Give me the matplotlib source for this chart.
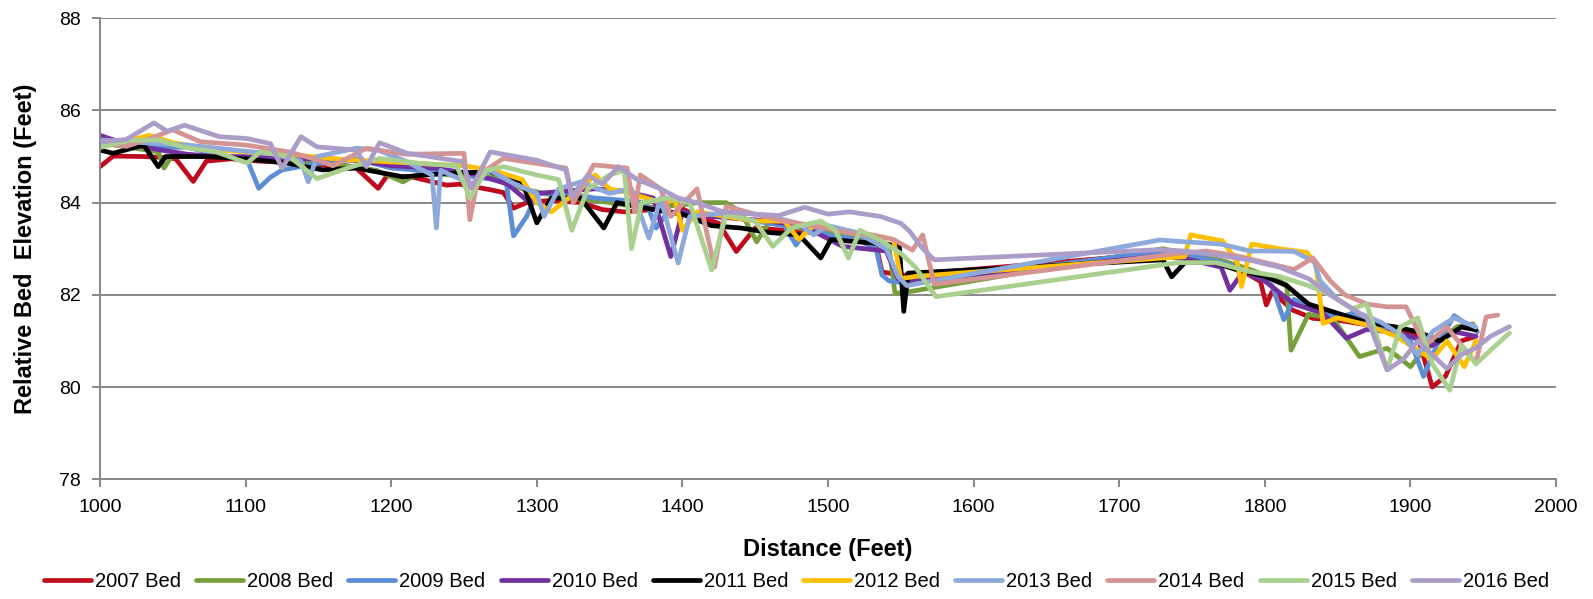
import matplotlib.pyplot as plt

# --- Survey data: (distance ft, relative bed elevation ft) ---
bed_2007 = [(1000, 84.78), (1009, 85.01), (1030, 85.0), (1045, 84.98), (1052, 84.95), (1064, 84.46),
            (1073, 84.9), (1090, 84.95), (1110, 84.9), (1130, 84.88), (1150, 84.82), (1176, 84.75),
            (1191, 84.31), (1197, 84.58), (1215, 84.55), (1238, 84.38), (1247, 84.4), (1268, 84.28),
            (1277, 84.22), (1284, 83.88), (1293, 84.0), (1310, 84.05), (1330, 84.0), (1345, 83.85),
            (1360, 83.8), (1380, 83.85), (1395, 83.95), (1410, 83.7), (1425, 83.55), (1437, 82.94),
            (1450, 83.45), (1470, 83.4), (1490, 83.35), (1505, 83.3), (1520, 83.2), (1533, 83.1),
            (1537, 82.5), (1550, 82.42), (1730, 82.9), (1745, 82.85), (1760, 82.75), (1780, 82.6),
            (1797, 82.29), (1801, 81.78), (1805, 82.07), (1819, 81.67), (1833, 81.49), (1850, 81.45),
            (1870, 81.35), (1890, 81.3), (1905, 81.1), (1915, 80.0), (1924, 80.23), (1935, 81.0),
            (1945, 81.1)]

bed_2008 = [(1000, 85.3), (1020, 85.2), (1040, 85.1), (1044, 84.75), (1050, 85.05), (1080, 85.0),
            (1100, 84.95), (1130, 84.9), (1160, 84.85), (1190, 84.7), (1208, 84.45), (1220, 84.65),
            (1240, 84.6), (1270, 84.55), (1290, 84.3), (1305, 84.2), (1320, 84.1), (1340, 84.05),
            (1360, 83.95), (1380, 83.9), (1400, 83.95), (1410, 84.0), (1430, 84.0), (1440, 83.8),
            (1451, 83.15), (1460, 83.6), (1480, 83.45), (1500, 83.35), (1520, 83.25), (1535, 83.15),
            (1542, 83.0), (1546, 82.03), (1556, 82.07), (1730, 83.0), (1745, 82.9), (1770, 82.75),
            (1790, 82.55), (1810, 82.3), (1815, 82.22), (1818, 80.8), (1830, 81.58), (1847, 81.48),
            (1865, 80.66), (1884, 80.84), (1900, 80.44), (1909, 80.8), (1920, 81.0), (1932, 81.31),
            (1943, 81.37)]

bed_2009 = [(1000, 85.35), (1020, 85.3), (1040, 85.2), (1060, 85.2), (1080, 85.05), (1101, 84.93),
            (1109, 84.31), (1117, 84.55), (1125, 84.71), (1150, 84.85), (1176, 84.95), (1200, 84.75),
            (1220, 84.7), (1240, 84.65), (1270, 84.5), (1279, 84.45), (1284, 83.28), (1293, 83.7),
            (1300, 84.2), (1320, 84.2), (1340, 84.1), (1360, 84.05), (1375, 84.0), (1382, 83.45),
            (1390, 83.8), (1410, 83.75), (1430, 83.7), (1450, 83.6), (1470, 83.5), (1478, 83.08),
            (1486, 83.45), (1500, 83.3), (1520, 83.2), (1533, 83.0), (1537, 82.43), (1542, 82.3),
            (1555, 82.25), (1730, 82.95), (1750, 82.85), (1770, 82.7), (1790, 82.5), (1805, 82.2),
            (1813, 81.46), (1820, 81.9), (1835, 81.7), (1850, 81.5), (1860, 81.6), (1875, 81.35),
            (1890, 81.2), (1900, 81.0), (1909, 80.23), (1918, 80.9), (1930, 81.55), (1946, 81.2)]

bed_2010 = [(1000, 85.46), (1015, 85.3), (1040, 85.15), (1060, 85.05), (1080, 85.0), (1100, 85.0),
            (1130, 84.95), (1160, 84.95), (1180, 84.9), (1200, 84.8), (1230, 84.75), (1260, 84.6),
            (1280, 84.4), (1295, 84.0), (1300, 84.2), (1320, 84.25), (1340, 84.3), (1360, 84.25),
            (1380, 84.1), (1392, 82.83), (1400, 83.8), (1420, 83.7), (1440, 83.65), (1460, 83.6),
            (1480, 83.5), (1495, 83.3), (1510, 83.05), (1525, 83.0), (1540, 82.95), (1548, 82.35),
            (1556, 82.3), (1730, 82.85), (1750, 82.75), (1770, 82.6), (1776, 82.1), (1785, 82.5),
            (1800, 82.3), (1820, 81.8), (1840, 81.6), (1856, 81.06), (1870, 81.25), (1885, 81.2),
            (1900, 81.1), (1915, 80.9), (1930, 81.2), (1945, 81.1)]

bed_2011 = [(1000, 85.14), (1009, 85.07), (1030, 85.25), (1040, 84.78), (1045, 85.0), (1073, 85.0),
            (1100, 84.95), (1130, 84.85), (1141, 84.78), (1153, 84.71), (1176, 84.75), (1208, 84.56),
            (1236, 84.63), (1250, 84.65), (1268, 84.67), (1290, 84.45), (1300, 83.56), (1310, 84.1),
            (1330, 84.1), (1346, 83.45), (1355, 84.0), (1380, 83.85), (1400, 83.75), (1420, 83.5),
            (1440, 83.45), (1460, 83.35), (1480, 83.3), (1495, 82.8), (1502, 83.2), (1520, 83.15),
            (1540, 83.1), (1549, 83.05), (1552, 81.64), (1555, 82.47), (1730, 82.76), (1736, 82.39),
            (1745, 82.7), (1765, 82.7), (1780, 82.55), (1800, 82.4), (1815, 82.2), (1830, 81.8),
            (1850, 81.6), (1870, 81.4), (1890, 81.3), (1905, 81.2), (1920, 81.0), (1935, 81.3),
            (1945, 81.24)]

bed_2012 = [(1000, 85.2), (1034, 85.46), (1050, 85.3), (1080, 85.15), (1100, 85.1), (1130, 85.05),
            (1160, 84.95), (1190, 84.9), (1220, 84.85), (1250, 84.8), (1270, 84.7), (1290, 84.5),
            (1300, 84.0), (1310, 83.8), (1330, 84.3), (1340, 84.6), (1350, 84.3), (1365, 84.2),
            (1385, 84.0), (1395, 84.05), (1400, 83.4), (1410, 83.8), (1430, 83.7), (1450, 83.6),
            (1470, 83.6), (1480, 83.2), (1490, 83.5), (1510, 83.4), (1530, 83.3), (1545, 83.2),
            (1550, 82.35), (1560, 82.4), (1730, 82.8), (1745, 82.83), (1749, 83.3), (1771, 83.17),
            (1781, 82.72), (1784, 82.18), (1791, 83.1), (1810, 83.0), (1829, 82.92), (1835, 82.65),
            (1840, 81.38), (1850, 81.5), (1870, 81.35), (1890, 81.1), (1900, 80.9), (1915, 80.6),
            (1925, 81.0), (1937, 80.44), (1945, 81.0)]

bed_2013 = [(1000, 85.36), (1030, 85.3), (1060, 85.25), (1090, 85.15), (1120, 85.05), (1138, 84.9),
            (1143, 84.45), (1149, 85.0), (1176, 85.18), (1190, 85.15), (1210, 84.9), (1228, 84.6),
            (1231, 83.45), (1234, 84.7), (1255, 84.4), (1268, 84.7), (1285, 84.4), (1300, 84.2),
            (1305, 83.7), (1315, 84.3), (1330, 84.45), (1350, 84.2), (1365, 84.3), (1377, 83.23),
            (1385, 84.1), (1397, 82.69), (1405, 83.7), (1420, 83.75), (1440, 83.8), (1460, 83.7),
            (1480, 83.55), (1490, 83.3), (1500, 83.5), (1520, 83.35), (1540, 83.0), (1548, 82.4),
            (1554, 82.2), (1728, 83.19), (1745, 83.15), (1770, 83.1), (1790, 82.95), (1806, 82.95),
            (1820, 82.94), (1834, 82.72), (1838, 82.3), (1850, 81.9), (1865, 81.6), (1880, 81.4),
            (1895, 81.1), (1905, 80.7), (1915, 81.2), (1930, 81.5), (1945, 81.3)]

bed_2014 = [(1000, 85.3), (1018, 85.22), (1035, 85.4), (1050, 85.58), (1069, 85.32), (1100, 85.25),
            (1130, 85.1), (1149, 84.93), (1160, 84.8), (1183, 85.18), (1210, 85.05), (1250, 85.07),
            (1254, 83.63), (1260, 84.6), (1277, 84.96), (1300, 84.85), (1320, 84.75), (1325, 84.0),
            (1339, 84.82), (1362, 84.75), (1367, 83.8), (1371, 84.6), (1385, 84.3), (1392, 83.7),
            (1410, 84.3), (1422, 82.6), (1430, 83.92), (1450, 83.75), (1470, 83.6), (1490, 83.5),
            (1515, 83.34), (1530, 83.3), (1545, 83.2), (1558, 82.97), (1565, 83.3), (1573, 82.23),
            (1741, 82.9), (1760, 82.95), (1780, 82.85), (1800, 82.7), (1820, 82.55), (1833, 82.8),
            (1845, 82.3), (1855, 82.0), (1870, 81.8), (1884, 81.74), (1897, 81.74), (1910, 80.9),
            (1925, 81.3), (1945, 80.52), (1952, 81.52), (1960, 81.56)]

bed_2015 = [(1000, 85.2), (1020, 85.35), (1040, 85.36), (1058, 85.2), (1080, 85.1), (1101, 84.86),
            (1110, 85.1), (1130, 85.0), (1149, 84.52), (1170, 84.75), (1192, 84.96), (1220, 84.85),
            (1245, 84.8), (1254, 84.1), (1265, 84.7), (1277, 84.78), (1300, 84.6), (1315, 84.5),
            (1324, 83.4), (1335, 84.3), (1350, 84.6), (1360, 84.7), (1365, 83.0), (1372, 84.0),
            (1390, 84.1), (1405, 84.0), (1420, 82.54), (1430, 83.75), (1450, 83.6), (1462, 83.05),
            (1475, 83.45), (1495, 83.6), (1505, 83.4), (1514, 82.8), (1522, 83.4), (1535, 83.2),
            (1550, 82.9), (1560, 82.6), (1574, 81.96), (1741, 82.7), (1766, 82.7), (1790, 82.5),
            (1810, 82.4), (1830, 82.2), (1845, 82.0), (1860, 81.7), (1870, 81.8), (1884, 80.37),
            (1893, 81.3), (1905, 81.5), (1915, 80.5), (1927, 79.93), (1935, 80.9), (1945, 80.5),
            (1955, 80.8), (1968, 81.17)]

bed_2016 = [(1000, 85.32), (1018, 85.37), (1037, 85.73), (1046, 85.55), (1058, 85.68), (1082, 85.43),
            (1101, 85.39), (1117, 85.28), (1125, 84.75), (1138, 85.43), (1149, 85.21), (1176, 85.14),
            (1183, 84.78), (1192, 85.3), (1211, 85.07), (1249, 84.89), (1255, 84.31), (1268, 85.1),
            (1300, 84.92), (1320, 84.71), (1324, 84.13), (1335, 84.6), (1345, 84.4), (1356, 84.78),
            (1369, 84.5), (1385, 84.3), (1397, 84.1), (1410, 84.0), (1428, 83.8), (1450, 83.75),
            (1466, 83.72), (1484, 83.9), (1500, 83.75), (1515, 83.8), (1536, 83.7), (1550, 83.55),
            (1556, 83.38), (1565, 83.0), (1573, 82.76), (1728, 82.98), (1745, 82.95), (1770, 82.85),
            (1790, 82.75), (1810, 82.6), (1830, 82.35), (1845, 82.0), (1860, 81.7), (1870, 81.5),
            (1884, 80.37), (1895, 80.6), (1905, 81.0), (1915, 80.7), (1925, 80.4), (1935, 80.7),
            (1945, 80.85), (1955, 81.1), (1968, 81.31)]

labels = ["2007 Bed", "2008 Bed", "2009 Bed", "2010 Bed", "2011 Bed",
          "2012 Bed", "2013 Bed", "2014 Bed", "2015 Bed", "2016 Bed"]
colors = ["#C00A1E", "#77A03C", "#5B8ED6", "#7030A0", "#000000",
          "#FFC000", "#8EA9DB", "#D49494", "#A9D08E", "#AC9CC8"]
all_beds = [bed_2007, bed_2008, bed_2009, bed_2010, bed_2011,
            bed_2012, bed_2013, bed_2014, bed_2015, bed_2016]

plt.rcParams['font.family'] = ['Liberation Sans', 'DejaVu Sans']

fig = plt.figure(figsize=(15.93, 5.99), dpi=100)
ax = fig.add_axes([0.0628, 0.2, 0.914, 0.7695])

for bed, lab, col in zip(all_beds, labels, colors):
    xs = [p[0] for p in bed]
    ys = [p[1] for p in bed]
    ax.plot(xs, ys, color=col, lw=3.4, label=lab,
            solid_joinstyle='round', solid_capstyle='round')

grid_col = "#878787"
ax.set_xlim(1000, 2000)
ax.set_ylim(78, 88)
ax.set_xticks(range(1000, 2001, 100))
ax.set_yticks(range(78, 89, 2))
ax.yaxis.grid(True, color=grid_col, lw=1.4)
ax.set_axisbelow(True)
for side in ["top", "right"]:
    ax.spines[side].set_visible(False)
for side in ["left", "bottom"]:
    ax.spines[side].set_color(grid_col)
    ax.spines[side].set_linewidth(1.4)
ax.tick_params(axis="both", direction="out", length=6, width=1.4, color=grid_col,
               labelsize=14, pad=8)

ax.set_xlabel("Distance (Feet)", fontsize=17, fontweight="bold")
ax.set_ylabel("Relative Bed  Elevation (Feet)", fontsize=17, fontweight="bold")
ax.xaxis.set_label_coords(0.5, -0.128)
ax.yaxis.set_label_coords(-0.043, 0.5)

fig.legend(loc="center", bbox_to_anchor=(0.5, 0.029), ncol=10, frameon=False,
           fontsize=14.5, handlelength=2.33, handletextpad=0.2, columnspacing=0.75)

fig.savefig("out.png", dpi=100)
